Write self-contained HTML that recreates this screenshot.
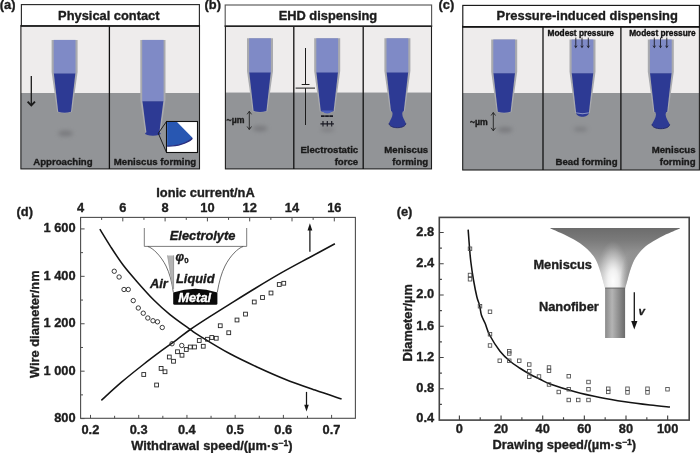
<!DOCTYPE html>
<html><head><meta charset="utf-8"><title>Meniscus-guided printing</title>
<style>html,body{margin:0;padding:0;background:#fff}svg{display:block}text{font-family:"Liberation Sans",Arial,Helvetica,sans-serif;font-weight:bold;stroke-width:0.35;stroke-linejoin:round}.i{font-style:italic}</style></head>
<body>
<svg width="700" height="453" viewBox="0 0 700 453">
<defs>
<filter id="bl" x="-50%" y="-100%" width="200%" height="300%"><feGaussianBlur stdDeviation="1.9"/></filter>
<linearGradient id="cyl" x1="0" x2="1" y1="0" y2="0"><stop offset="0" stop-color="#8a8a8a"/><stop offset="0.35" stop-color="#b4b4b4"/><stop offset="0.7" stop-color="#8c8c8c"/><stop offset="1" stop-color="#6a6a6a"/></linearGradient>
<linearGradient id="fun" x1="0" x2="0" y1="228" y2="288" gradientUnits="userSpaceOnUse"><stop offset="0" stop-color="#6c6c6c"/><stop offset="0.2" stop-color="#7a7a7a"/><stop offset="0.45" stop-color="#969696"/><stop offset="0.75" stop-color="#b8b8b8"/><stop offset="1" stop-color="#c0c0c0"/></linearGradient>
<radialGradient id="hl" cx="613" cy="281" r="40" gradientUnits="userSpaceOnUse" gradientTransform="translate(613 281) scale(0.42 1) translate(-613 -281)"><stop offset="0" stop-color="#fff" stop-opacity="0.97"/><stop offset="0.3" stop-color="#fff" stop-opacity="0.8"/><stop offset="0.6" stop-color="#fff" stop-opacity="0.38"/><stop offset="0.85" stop-color="#fff" stop-opacity="0.1"/><stop offset="1" stop-color="#fff" stop-opacity="0"/></radialGradient>
<radialGradient id="shd" cx="634" cy="284" r="34" gradientUnits="userSpaceOnUse" gradientTransform="translate(634 284) scale(0.42 1) translate(-634 -284)"><stop offset="0" stop-color="#707070" stop-opacity="0.85"/><stop offset="0.5" stop-color="#707070" stop-opacity="0.5"/><stop offset="1" stop-color="#707070" stop-opacity="0"/></radialGradient>
<linearGradient id="db" x1="0" x2="0" y1="0" y2="1"><stop offset="0" stop-color="#2e398a"/><stop offset="0.5" stop-color="#2e3a8e"/><stop offset="1" stop-color="#2b3ca2"/></linearGradient>
</defs>
<rect width="700" height="453" fill="#fff"/>
<rect x="20.9" y="25.5" width="178.6" height="67.5" fill="#eeecec"/>
<rect x="20.9" y="93" width="178.6" height="75.9" fill="#929497"/>
<path d="M51.599999999999994 39.9H77.6V72.1L72.0 112.05Q64.6 114.25 57.199999999999996 112.05L51.599999999999994 72.1Z" fill="#a9aaae"/>
<rect x="53.699999999999996" y="39.9" width="21.8" height="33.99999999999999" fill="#7f8ac6"/>
<path d="M53.87 73.6H75.33L71.0 111.85Q64.6 113.64999999999999 58.199999999999996 111.85Z" fill="#2d3a94"/>
<ellipse cx="65.5" cy="133.4" rx="7.6" ry="2.8" fill="#6a6b6e" opacity="0.62" filter="url(#bl)"/>
<path d="M31.3 76V105" fill="none" stroke="#1a1a1a" stroke-width="1.3"/>
<path d="M27.6 101.7L31.3 105.4L35.0 101.7" fill="none" stroke="#1a1a1a" stroke-width="1.9" stroke-linejoin="miter"/>
<path d="M140.3 39.9H165.5V99.5L160.3 133.95Q152.9 136.14999999999998 145.5 133.95L140.3 99.5Z" fill="#a9aaae"/>
<rect x="142.20000000000002" y="39.9" width="21.4" height="61.699999999999996" fill="#7f8ac6"/>
<path d="M142.43 101.3H163.37L159.20000000000002 133.75Q152.9 135.54999999999998 146.6 133.75Z" fill="#2d3a94"/>
<ellipse cx="152.9" cy="133.6" rx="7.9" ry="2.1" fill="#2d3a94"/>
<path d="M158.3 133.3L166.5 121.5M158.3 133.3L166.5 152.5" stroke="#111" stroke-width="0.9" fill="none"/>
<rect x="166.5" y="121.5" width="31" height="31" fill="#fff" stroke="#111" stroke-width="1.1"/>
<path d="M167.1 146C176 146.2 186.5 143.6 191.8 139.2Q192.9 138.2 192 137.3L177 122.1H167.1Z" fill="#2857b2"/>
<path d="M167.1 145.4C176 145.6 186.5 143.2 192.1 137.4Q193.2 138.6 192.2 139.6C186.5 144.6 176 147.2 167.1 146.8Z" fill="#2b2f7e"/>
<rect x="20.9" y="25.5" width="178.6" height="143.4" fill="none" stroke="#1e1e1e" stroke-width="1.1"/>
<line x1="109.4" y1="25.5" x2="109.4" y2="168.9" stroke="#111" stroke-width="1.3"/>
<text x="62.9" y="165.0" font-size="9.65" text-anchor="middle" fill="#1a1a1a" stroke="#1a1a1a">Approaching</text>
<text x="155" y="165.0" font-size="9.65" text-anchor="middle" fill="#1a1a1a" stroke="#1a1a1a">Meniscus forming</text>
<rect x="21.4" y="4.6" width="178.0" height="21.299999999999997" fill="#fff" stroke="#2a2a2a" stroke-width="1.15"/>
<line x1="20.849999999999998" y1="26.0" x2="199.95000000000002" y2="26.0" stroke="#141414" stroke-width="1.7"/>
<text x="108.8" y="20" font-size="12.85" text-anchor="middle" fill="#1c1c1c" stroke="#1c1c1c">Physical contact</text>
<text x="-0.2" y="8.9" font-size="12.85" text-anchor="start" fill="#1c1c1c" stroke="#1c1c1c">(a)</text>
<rect x="225.4" y="25.5" width="206.1" height="67.0" fill="#eeecec"/>
<rect x="225.4" y="92.5" width="206.1" height="76.4" fill="#929497"/>
<path d="M247 38.3H273V71.1L267.4 111.25Q260 113.45 252.6 111.25L247 71.1Z" fill="#a9aaae"/>
<rect x="249.1" y="38.3" width="21.8" height="34.599999999999994" fill="#7f8ac6"/>
<path d="M249.27 72.6H270.73L266.4 111.05Q260 112.85 253.6 111.05Z" fill="#2d3a94"/>
<ellipse cx="260" cy="128.6" rx="7.6" ry="2.8" fill="#6a6b6e" opacity="0.62" filter="url(#bl)"/>
<text x="226.6" y="122.6" font-size="8.7" text-anchor="start" fill="#1a1a1a" stroke="#1a1a1a">~µm</text>
<path d="M249.3 111.3V129.5M247.10000000000002 114.3L249.3 111.3L251.5 114.3M247.10000000000002 126.5L249.3 129.5L251.5 126.5" fill="none" stroke="#222" stroke-width="0.9"/>
<path d="M305.5 48V84.5M301.7 84.5H309.5M295.6 88.1H315M305.5 88.1V125" stroke="#1c1c1c" stroke-width="1" fill="none"/>
<path d="M314.2 38.3H340.2V71.1L334.59999999999997 111.45Q327.2 113.65 319.8 111.45L314.2 71.1Z" fill="#a9aaae"/>
<rect x="316.3" y="38.3" width="21.8" height="34.599999999999994" fill="#7f8ac6"/>
<path d="M316.47 72.6H337.93L333.59999999999997 111.25Q327.2 113.05 320.8 111.25Z" fill="#2d3a94"/>
<path d="M321.2 110.6Q327.2 116.6 333.2 110.6Z" fill="#4d60bd"/>
<path d="M321 116.2H324.7M325.15 116.2H328.85M329.3 116.2H333" stroke="#1a1a24" stroke-width="1.7" fill="none"/>
<path d="M320.4 123.8H333.9M323 121.1V126.4M327.3 121.1V126.4M331.7 121.1V126.4" stroke="#1a1a24" stroke-width="1.15" fill="none"/>
<ellipse cx="327.5" cy="129.6" rx="7" ry="2.2" fill="#6a6b6e" opacity="0.45" filter="url(#bl)"/>
<path d="M384.4 38.3H410.4V71.1L404.79999999999995 111.35000000000001Q397.4 113.55000000000001 390.0 111.35000000000001L384.4 71.1Z" fill="#a9aaae"/>
<rect x="386.5" y="38.3" width="21.8" height="34.599999999999994" fill="#7f8ac6"/>
<path d="M386.67 72.6H408.13L403.79999999999995 111.15Q397.4 112.95 391.0 111.15Z" fill="#2d3a94"/>
<path d="M391.7 109.5C391.9 111.5 392.49999999999994 113.0 392.54999999999995 113.8C392.54999999999995 117.39999999999999 390.3 119.89999999999999 389.0 123.3C389.0 126.0 392.86 127.7 397.4 127.7C401.94 127.7 405.79999999999995 126.0 405.79999999999995 123.3C404.49999999999994 119.89999999999999 402.25 117.39999999999999 402.25 113.8C402.3 113.0 402.9 111.5 403.09999999999997 109.5Z" fill="#2d3a94"/>
<path d="M389.0 123.3C389.0 126.0 392.86 127.7 397.4 127.7C401.94 127.7 405.79999999999995 126.0 405.79999999999995 123.3" fill="none" stroke="#1f2566" stroke-width="0.9"/>
<rect x="225.4" y="25.5" width="206.1" height="143.4" fill="none" stroke="#1e1e1e" stroke-width="1.1"/>
<line x1="293.8" y1="25.5" x2="293.8" y2="168.9" stroke="#111" stroke-width="1.3"/>
<line x1="363.2" y1="25.5" x2="363.2" y2="168.9" stroke="#111" stroke-width="1.3"/>
<text x="358.2" y="153.3" font-size="9.65" text-anchor="end" fill="#1a1a1a" stroke="#1a1a1a">Electrostatic</text>
<text x="358.2" y="165.0" font-size="9.65" text-anchor="end" fill="#1a1a1a" stroke="#1a1a1a">force</text>
<text x="428.2" y="153.3" font-size="9.65" text-anchor="end" fill="#1a1a1a" stroke="#1a1a1a">Meniscus</text>
<text x="428.2" y="165.0" font-size="9.65" text-anchor="end" fill="#1a1a1a" stroke="#1a1a1a">forming</text>
<rect x="225.2" y="5.0" width="206.40000000000003" height="21.05" fill="#fff" stroke="#585858" stroke-width="1.15"/>
<line x1="224.64999999999998" y1="26.150000000000002" x2="432.15000000000003" y2="26.150000000000002" stroke="#222" stroke-width="1.45"/>
<text x="327.9" y="20" font-size="12.85" text-anchor="middle" fill="#1c1c1c" stroke="#1c1c1c">EHD dispensing</text>
<text x="204.6" y="8.7" font-size="12.85" text-anchor="start" fill="#1c1c1c" stroke="#1c1c1c">(b)</text>
<rect x="462.7" y="26" width="236.7" height="67" fill="#eeecec"/>
<rect x="462.7" y="93" width="236.7" height="77" fill="#929497"/>
<path d="M491.2 39.5H517.2V71.8L511.59999999999997 112.05Q504.2 114.25 496.8 112.05L491.2 71.8Z" fill="#a9aaae"/>
<rect x="493.3" y="39.5" width="21.8" height="34.099999999999994" fill="#7f8ac6"/>
<path d="M493.47 73.3H514.93L510.59999999999997 111.85Q504.2 113.64999999999999 497.8 111.85Z" fill="#2d3a94"/>
<ellipse cx="505" cy="129.8" rx="7.6" ry="2.8" fill="#6a6b6e" opacity="0.62" filter="url(#bl)"/>
<text x="470" y="125.0" font-size="8.7" text-anchor="start" fill="#1a1a1a" stroke="#1a1a1a">~µm</text>
<path d="M493.3 112.5V130.8M491.1 115.5L493.3 112.5L495.5 115.5M491.1 127.80000000000001L493.3 130.8L495.5 127.80000000000001" fill="none" stroke="#222" stroke-width="0.9"/>
<path d="M569.5 39.5H595.5V71.8L589.9 112.85000000000001Q582.5 115.05000000000001 575.1 112.85000000000001L569.5 71.8Z" fill="#a9aaae"/>
<rect x="571.6" y="39.5" width="21.8" height="34.099999999999994" fill="#7f8ac6"/>
<path d="M571.76 73.3H593.24L588.9 112.65Q582.5 114.45 576.1 112.65Z" fill="#2d3a94"/>
<path d="M576.2 113C576.9 118 588.1 118 588.8 113Q582.5 115.2 576.2 113Z" fill="#2d3a94"/>
<path d="M576.3 112.7Q582.5 115 588.7 112.7" fill="none" stroke="#a4aee0" stroke-width="0.6"/>
<ellipse cx="580.5" cy="129.20000000000002" rx="7" ry="2.4" fill="#6a6b6e" opacity="0.5" filter="url(#bl)"/>
<path d="M575.8 37.6V46.5" fill="none" stroke="#15151c" stroke-width="0.85"/><path d="M573.9 45.3L575.8 46.4L577.6999999999999 45.3L575.8 48.2Z" fill="#15151c"/>
<path d="M582 37.6V46.5" fill="none" stroke="#15151c" stroke-width="0.85"/><path d="M580.1 45.3L582 46.4L583.9 45.3L582 48.2Z" fill="#15151c"/>
<path d="M588.3 37.6V46.5" fill="none" stroke="#15151c" stroke-width="0.85"/><path d="M586.4 45.3L588.3 46.4L590.1999999999999 45.3L588.3 48.2Z" fill="#15151c"/>
<text x="547.6" y="35.6" font-size="8.3" text-anchor="start" fill="#101010" stroke="#101010">Modest pressure</text>
<path d="M647.8 39.5H673.8V71.8L668.1999999999999 112.15Q660.8 114.35000000000001 653.4 112.15L647.8 71.8Z" fill="#a9aaae"/>
<rect x="649.9" y="39.5" width="21.8" height="34.099999999999994" fill="#7f8ac6"/>
<path d="M650.07 73.3H671.53L667.1999999999999 111.95Q660.8 113.75 654.4 111.95Z" fill="#2d3a94"/>
<path d="M655.0999999999999 110.3C655.3 112.3 655.95 113.60000000000001 656.0 114.4C656.0 118.0 653.2499999999999 120.89999999999999 651.9499999999999 124.3C651.9499999999999 127.0 656.02 128.7 660.8 128.7C665.58 128.7 669.65 127.0 669.65 124.3C668.35 120.89999999999999 665.5999999999999 118.0 665.5999999999999 114.4C665.6499999999999 113.60000000000001 666.3 112.3 666.5 110.3Z" fill="#2d3a94"/>
<path d="M651.9499999999999 124.3C651.9499999999999 127.0 656.02 128.7 660.8 128.7C665.58 128.7 669.65 127.0 669.65 124.3" fill="none" stroke="#1f2566" stroke-width="0.9"/>
<path d="M654.3 37.6V46.5" fill="none" stroke="#15151c" stroke-width="0.85"/><path d="M652.4 45.3L654.3 46.4L656.1999999999999 45.3L654.3 48.2Z" fill="#15151c"/>
<path d="M660.5 37.6V46.5" fill="none" stroke="#15151c" stroke-width="0.85"/><path d="M658.6 45.3L660.5 46.4L662.4 45.3L660.5 48.2Z" fill="#15151c"/>
<path d="M666.8 37.6V46.5" fill="none" stroke="#15151c" stroke-width="0.85"/><path d="M664.9 45.3L666.8 46.4L668.6999999999999 45.3L666.8 48.2Z" fill="#15151c"/>
<text x="629.2" y="35.6" font-size="8.3" text-anchor="start" fill="#101010" stroke="#101010">Modest pressure</text>
<rect x="462.7" y="26" width="236.7" height="144" fill="none" stroke="#1e1e1e" stroke-width="1.1"/>
<line x1="543" y1="26" x2="543" y2="170" stroke="#111" stroke-width="1.3"/>
<line x1="620.9" y1="26" x2="620.9" y2="170" stroke="#111" stroke-width="1.3"/>
<text x="617.6" y="165.0" font-size="9.65" text-anchor="end" fill="#1a1a1a" stroke="#1a1a1a">Bead forming</text>
<text x="695.6" y="153.3" font-size="9.65" text-anchor="end" fill="#1a1a1a" stroke="#1a1a1a">Meniscus</text>
<text x="695.6" y="165.0" font-size="9.65" text-anchor="end" fill="#1a1a1a" stroke="#1a1a1a">forming</text>
<rect x="462.8" y="5.4" width="236.59999999999997" height="21.299999999999997" fill="#fff" stroke="#161616" stroke-width="1.15"/>
<line x1="462.25" y1="26.8" x2="699.9499999999999" y2="26.8" stroke="#141414" stroke-width="1.7"/>
<text x="587.2" y="20.1" font-size="12.95" text-anchor="middle" fill="#1c1c1c" stroke="#1c1c1c">Pressure-induced dispensing</text>
<text x="438.6" y="9.2" font-size="12.85" text-anchor="start" fill="#1c1c1c" stroke="#1c1c1c">(c)</text>
<path d="M90.50 418.3v-3.4M138.72 418.3v-3.4M186.94 418.3v-3.4M235.16 418.3v-3.4M283.38 418.3v-3.4M331.60 418.3v-3.4M114.61 418.3v-2.5M162.83 418.3v-2.5M211.05 418.3v-2.5M259.27 418.3v-2.5M307.49 418.3v-2.5M80.50 217.4v4M122.80 217.4v4M165.10 217.4v4M207.40 217.4v4M249.70 217.4v4M292.00 217.4v4M334.30 217.4v4M101.65 217.4v2.5M143.95 217.4v2.5M186.25 217.4v2.5M228.55 217.4v2.5M270.85 217.4v2.5M313.15 217.4v2.5M80.6 418.60h4M80.6 371.18h4M80.6 323.76h4M80.6 276.34h4M80.6 228.92h4M80.6 394.89h2.4M80.6 347.47h2.4M80.6 300.05h2.4M80.6 252.63h2.4" stroke="#4d4d4d" stroke-width="1" fill="none"/>
<rect x="80.6" y="217.4" width="274.79999999999995" height="200.9" fill="none" stroke="#4d4d4d" stroke-width="1.1"/>
<text x="90.4" y="433.8" font-size="12.85" text-anchor="middle" fill="#1e1e1e" stroke="#1e1e1e">0.2</text>
<text x="138.62" y="433.8" font-size="12.85" text-anchor="middle" fill="#1e1e1e" stroke="#1e1e1e">0.3</text>
<text x="186.84" y="433.8" font-size="12.85" text-anchor="middle" fill="#1e1e1e" stroke="#1e1e1e">0.4</text>
<text x="235.06" y="433.8" font-size="12.85" text-anchor="middle" fill="#1e1e1e" stroke="#1e1e1e">0.5</text>
<text x="283.28" y="433.8" font-size="12.85" text-anchor="middle" fill="#1e1e1e" stroke="#1e1e1e">0.6</text>
<text x="331.5" y="433.8" font-size="12.85" text-anchor="middle" fill="#1e1e1e" stroke="#1e1e1e">0.7</text>
<text x="80.5" y="212.2" font-size="12.85" text-anchor="middle" fill="#1e1e1e" stroke="#1e1e1e">4</text>
<text x="122.8" y="212.2" font-size="12.85" text-anchor="middle" fill="#1e1e1e" stroke="#1e1e1e">6</text>
<text x="165.1" y="212.2" font-size="12.85" text-anchor="middle" fill="#1e1e1e" stroke="#1e1e1e">8</text>
<text x="207.4" y="212.2" font-size="12.85" text-anchor="middle" fill="#1e1e1e" stroke="#1e1e1e">10</text>
<text x="249.7" y="212.2" font-size="12.85" text-anchor="middle" fill="#1e1e1e" stroke="#1e1e1e">12</text>
<text x="292.0" y="212.2" font-size="12.85" text-anchor="middle" fill="#1e1e1e" stroke="#1e1e1e">14</text>
<text x="334.3" y="212.2" font-size="12.85" text-anchor="middle" fill="#1e1e1e" stroke="#1e1e1e">16</text>
<text x="75.6" y="422.0" font-size="12.85" text-anchor="end" fill="#1e1e1e" stroke="#1e1e1e">800</text>
<text x="75.6" y="374.58" font-size="12.85" text-anchor="end" fill="#1e1e1e" stroke="#1e1e1e">1 000</text>
<text x="75.6" y="327.16" font-size="12.85" text-anchor="end" fill="#1e1e1e" stroke="#1e1e1e">1 200</text>
<text x="75.6" y="279.74" font-size="12.85" text-anchor="end" fill="#1e1e1e" stroke="#1e1e1e">1 400</text>
<text x="75.6" y="232.32" font-size="12.85" text-anchor="end" fill="#1e1e1e" stroke="#1e1e1e">1 600</text>
<text x="205.5" y="196.8" font-size="12.85" text-anchor="middle" fill="#1e1e1e" stroke="#1e1e1e">Ionic current/nA</text>
<text x="131.2" y="449.8" font-size="12.85" text-anchor="start" fill="#1e1e1e" stroke="#1e1e1e">Withdrawal speed/(µm·s<tspan dy="-4.2" font-size="8.6">−1</tspan><tspan dy="4.2">)</tspan></text>
<text transform="translate(38.6 324.2) rotate(-90)" font-size="12.85" text-anchor="middle" fill="#1e1e1e" stroke="#1e1e1e">Wire diameter/nm</text>
<text x="16.6" y="216.3" font-size="12.85" text-anchor="start" fill="#1e1e1e" stroke="#1e1e1e">(d)</text>
<path d="M99.85 229.2C101.69 232.18 107.03 241.13 110.9 247.1C114.78 253.07 118.88 259.40 123.1 265C127.32 270.60 131.08 274.87 136.2 280.7C141.32 286.53 148.17 294.35 153.8 300C159.43 305.65 163.92 309.68 170 314.6C176.08 319.52 185.30 325.92 190.3 329.5C195.30 333.08 193.38 332.05 200 336.1C206.62 340.15 220.42 348.62 230 353.8C239.58 358.98 248.33 362.97 257.5 367.2C266.67 371.43 275.42 375.38 285 379.2C294.58 383.02 305.57 386.80 315 390.1C324.43 393.40 337.17 397.52 341.6 399" fill="none" stroke="#141414" stroke-width="1.55"/>
<path d="M101.35 400.3C104.71 397.28 114.61 388.08 121.5 382.2C128.39 376.32 136.03 370.25 142.7 365C149.37 359.75 155.85 354.90 161.5 350.7C167.15 346.50 171.80 343.33 176.6 339.8C181.40 336.27 184.90 333.27 190.3 329.5C195.70 325.73 202.55 321.35 209 317.2C215.45 313.05 221.33 309.38 229 304.6C236.67 299.82 246.08 293.90 255 288.5C263.92 283.10 273.33 277.42 282.5 272.2C291.67 266.98 301.27 261.95 310 257.2C318.73 252.45 330.75 245.95 334.9 243.7" fill="none" stroke="#141414" stroke-width="1.55"/>
<path d="M309.9 251.8V229" stroke="#161616" stroke-width="1.25" fill="none"/><path d="M309.9 223.2L307.5 230.6H312.3Z" fill="#161616"/>
<path d="M306.5 391.9V406.5" stroke="#161616" stroke-width="1.25" fill="none"/><path d="M306.5 411.6L304.2 404.8H308.8Z" fill="#161616"/>
<circle cx="114.25" cy="271.25" r="2.2" fill="none" stroke="#262626" stroke-width="0.9"/>
<circle cx="119.1" cy="277" r="2.2" fill="none" stroke="#262626" stroke-width="0.9"/>
<circle cx="124" cy="289.5" r="2.2" fill="none" stroke="#262626" stroke-width="0.9"/>
<circle cx="128.25" cy="289.5" r="2.2" fill="none" stroke="#262626" stroke-width="0.9"/>
<circle cx="133.25" cy="300.6" r="2.2" fill="none" stroke="#262626" stroke-width="0.9"/>
<circle cx="138.3" cy="308" r="2.2" fill="none" stroke="#262626" stroke-width="0.9"/>
<circle cx="143.25" cy="313.2" r="2.2" fill="none" stroke="#262626" stroke-width="0.9"/>
<circle cx="147.8" cy="318" r="2.2" fill="none" stroke="#262626" stroke-width="0.9"/>
<circle cx="153" cy="320.75" r="2.2" fill="none" stroke="#262626" stroke-width="0.9"/>
<circle cx="157.5" cy="321.8" r="2.2" fill="none" stroke="#262626" stroke-width="0.9"/>
<circle cx="162.25" cy="327.5" r="2.2" fill="none" stroke="#262626" stroke-width="0.9"/>
<circle cx="172" cy="343.75" r="2.2" fill="none" stroke="#262626" stroke-width="0.9"/>
<circle cx="181.75" cy="345.5" r="2.2" fill="none" stroke="#262626" stroke-width="0.9"/>
<rect x="141.85" y="372.6" width="3.8" height="3.8" fill="none" stroke="#262626" stroke-width="0.9"/>
<rect x="154.7" y="383.1" width="3.8" height="3.8" fill="none" stroke="#262626" stroke-width="0.9"/>
<rect x="159.2" y="366.5" width="3.8" height="3.8" fill="none" stroke="#262626" stroke-width="0.9"/>
<rect x="163.1" y="369.85" width="3.8" height="3.8" fill="none" stroke="#262626" stroke-width="0.9"/>
<rect x="167.4" y="355.1" width="3.8" height="3.8" fill="none" stroke="#262626" stroke-width="0.9"/>
<rect x="171.6" y="359.35" width="3.8" height="3.8" fill="none" stroke="#262626" stroke-width="0.9"/>
<rect x="175.6" y="349.85" width="3.8" height="3.8" fill="none" stroke="#262626" stroke-width="0.9"/>
<rect x="180.1" y="353.35" width="3.8" height="3.8" fill="none" stroke="#262626" stroke-width="0.9"/>
<rect x="184.35" y="347.6" width="3.8" height="3.8" fill="none" stroke="#262626" stroke-width="0.9"/>
<rect x="188.35" y="345.1" width="3.8" height="3.8" fill="none" stroke="#262626" stroke-width="0.9"/>
<rect x="192.6" y="345.1" width="3.8" height="3.8" fill="none" stroke="#262626" stroke-width="0.9"/>
<rect x="197.35" y="338.6" width="3.8" height="3.8" fill="none" stroke="#262626" stroke-width="0.9"/>
<rect x="201.35" y="344.35" width="3.8" height="3.8" fill="none" stroke="#262626" stroke-width="0.9"/>
<rect x="205.6" y="337.35" width="3.8" height="3.8" fill="none" stroke="#262626" stroke-width="0.9"/>
<rect x="209.85" y="335.6" width="3.8" height="3.8" fill="none" stroke="#262626" stroke-width="0.9"/>
<rect x="214.35" y="336.35" width="3.8" height="3.8" fill="none" stroke="#262626" stroke-width="0.9"/>
<rect x="218.35" y="323.85" width="3.8" height="3.8" fill="none" stroke="#262626" stroke-width="0.9"/>
<rect x="226.85" y="330.85" width="3.8" height="3.8" fill="none" stroke="#262626" stroke-width="0.9"/>
<rect x="235.1" y="318.1" width="3.8" height="3.8" fill="none" stroke="#262626" stroke-width="0.9"/>
<rect x="243.6" y="312.20000000000005" width="3.8" height="3.8" fill="none" stroke="#262626" stroke-width="0.9"/>
<rect x="252.35" y="300.1" width="3.8" height="3.8" fill="none" stroke="#262626" stroke-width="0.9"/>
<rect x="260.6" y="295.6" width="3.8" height="3.8" fill="none" stroke="#262626" stroke-width="0.9"/>
<rect x="269.1" y="291.1" width="3.8" height="3.8" fill="none" stroke="#262626" stroke-width="0.9"/>
<rect x="277.35" y="282.6" width="3.8" height="3.8" fill="none" stroke="#262626" stroke-width="0.9"/>
<rect x="281.85" y="281.35" width="3.8" height="3.8" fill="none" stroke="#262626" stroke-width="0.9"/>
<path d="M144.3 228V246.4H246.7V228" fill="none" stroke="#6e6e6e" stroke-width="0.9"/>
<path d="M147.8 246.5C153 248 161 256 166 266C169.5 273 172 282 173.3 292.3M243.2 246.5C238 248 230 256 225 266C221.5 273 219 282 217.3 292.3" fill="none" stroke="#3c3c3c" stroke-width="0.75"/>
<path d="M167.3 255.4H173.9V289L172.9 289Z" fill="#b4b4b4"/><path d="M173.6 255.4V289" stroke="#8a8a8a" stroke-width="0.7" fill="none"/><path d="M167.5 255.4L172.9 288" stroke="#999" stroke-width="0.6" fill="none"/>
<path d="M173.2 292.5Q195.3 285.1 217.4 292.5V303.4Q217.4 304.8 216 304.8H174.6Q173.2 304.8 173.2 303.4Z" fill="#0a0a0a"/>
<text x="202.6" y="240" font-size="12.85" text-anchor="middle" fill="#1a1a1a" stroke="#1a1a1a" class="i">Electrolyte</text>
<text x="150" y="288" font-size="12.85" text-anchor="start" fill="#1a1a1a" stroke="#1a1a1a" class="i">Air</text>
<text x="176" y="282.5" font-size="12.85" text-anchor="start" fill="#1a1a1a" stroke="#1a1a1a" class="i">Liquid</text>
<text x="194.7" y="301.9" font-size="12.85" text-anchor="middle" fill="#ffffff" stroke="#ffffff" class="i">Metal</text>
<text x="175.6" y="260.6" font-size="12.2" text-anchor="start" fill="#1a1a1a" stroke="#1a1a1a" class="i">φ<tspan dy="2.4" font-size="7.8" font-style="normal">0</tspan></text>
<path d="M459.40 420.1v-4.6M501.05 420.1v-4.6M542.70 420.1v-4.6M584.35 420.1v-4.6M626.00 420.1v-4.6M667.65 420.1v-4.6M480.22 420.1v-2.8M521.88 420.1v-2.8M563.52 420.1v-2.8M605.17 420.1v-2.8M646.83 420.1v-2.8M439.3 388.75h4.4M439.3 357.50h4.4M439.3 326.25h4.4M439.3 295.00h4.4M439.3 263.75h4.4M439.3 232.50h4.4M439.3 404.38h2.6M439.3 373.12h2.6M439.3 341.88h2.6M439.3 310.62h2.6M439.3 279.38h2.6M439.3 248.12h2.6" stroke="#444" stroke-width="1.15" fill="none"/>
<rect x="439.3" y="217.4" width="249.90000000000003" height="202.70000000000002" fill="none" stroke="#444" stroke-width="1.6"/>
<text x="459.4" y="433" font-size="12.85" text-anchor="middle" fill="#1e1e1e" stroke="#1e1e1e">0</text>
<text x="501.05" y="433" font-size="12.85" text-anchor="middle" fill="#1e1e1e" stroke="#1e1e1e">20</text>
<text x="542.7" y="433" font-size="12.85" text-anchor="middle" fill="#1e1e1e" stroke="#1e1e1e">40</text>
<text x="584.35" y="433" font-size="12.85" text-anchor="middle" fill="#1e1e1e" stroke="#1e1e1e">60</text>
<text x="626.0" y="433" font-size="12.85" text-anchor="middle" fill="#1e1e1e" stroke="#1e1e1e">80</text>
<text x="667.65" y="433" font-size="12.85" text-anchor="middle" fill="#1e1e1e" stroke="#1e1e1e">100</text>
<text x="434.2" y="422.2" font-size="12.85" text-anchor="end" fill="#1e1e1e" stroke="#1e1e1e">0.4</text>
<text x="434.2" y="392.05" font-size="12.85" text-anchor="end" fill="#1e1e1e" stroke="#1e1e1e">0.8</text>
<text x="434.2" y="360.8" font-size="12.85" text-anchor="end" fill="#1e1e1e" stroke="#1e1e1e">1.2</text>
<text x="434.2" y="329.55" font-size="12.85" text-anchor="end" fill="#1e1e1e" stroke="#1e1e1e">1.6</text>
<text x="434.2" y="298.3" font-size="12.85" text-anchor="end" fill="#1e1e1e" stroke="#1e1e1e">2.0</text>
<text x="434.2" y="267.05" font-size="12.85" text-anchor="end" fill="#1e1e1e" stroke="#1e1e1e">2.4</text>
<text x="434.2" y="235.8" font-size="12.85" text-anchor="end" fill="#1e1e1e" stroke="#1e1e1e">2.8</text>
<text x="492.6" y="448.8" font-size="12.85" text-anchor="start" fill="#1e1e1e" stroke="#1e1e1e">Drawing speed/(µm·s<tspan dy="-4.2" font-size="8.6">−1</tspan><tspan dy="4.2">)</tspan></text>
<text transform="translate(411.6 322.8) rotate(-90)" font-size="12.85" text-anchor="middle" fill="#1e1e1e" stroke="#1e1e1e">Diameter/µm</text>
<text x="396.7" y="215.6" font-size="12.85" text-anchor="start" fill="#1e1e1e" stroke="#1e1e1e">(e)</text>
<path d="M468.15 229.6C468.38 232.58 469.05 242.10 469.5 247.5C469.95 252.90 470.18 256.58 470.85 262C471.52 267.42 472.49 274.17 473.5 280C474.51 285.83 475.88 292.75 476.9 297C477.92 301.25 478.85 302.50 479.6 305.5C480.35 308.50 480.47 312.00 481.4 315C482.33 318.00 483.83 320.17 485.2 323.5C486.57 326.83 487.13 330.38 489.6 335C492.07 339.62 496.60 346.88 500 351.25C503.40 355.62 506.67 358.42 510 361.25C513.33 364.08 516.67 366.08 520 368.25C523.33 370.42 526.67 372.42 530 374.25C533.33 376.08 536.67 377.62 540 379.25C543.33 380.88 544.17 381.92 550 384C555.83 386.08 566.67 389.50 575 391.75C583.33 394.00 591.67 395.83 600 397.5C608.33 399.17 616.67 400.50 625 401.75C633.33 403.00 642.50 404.12 650 405C657.50 405.88 666.67 406.67 670 407" fill="none" stroke="#141414" stroke-width="1.55"/>
<rect x="468.25" y="247.00" width="3.5" height="3.5" fill="none" stroke="#4c4c4c" stroke-width="0.85"/>
<rect x="468.25" y="273.25" width="3.5" height="3.5" fill="none" stroke="#4c4c4c" stroke-width="0.85"/>
<rect x="468.25" y="277.50" width="3.5" height="3.5" fill="none" stroke="#4c4c4c" stroke-width="0.85"/>
<rect x="478.25" y="304.50" width="3.5" height="3.5" fill="none" stroke="#4c4c4c" stroke-width="0.85"/>
<rect x="488.25" y="310.00" width="3.5" height="3.5" fill="none" stroke="#4c4c4c" stroke-width="0.85"/>
<rect x="488.25" y="332.50" width="3.5" height="3.5" fill="none" stroke="#4c4c4c" stroke-width="0.85"/>
<rect x="488.25" y="343.75" width="3.5" height="3.5" fill="none" stroke="#4c4c4c" stroke-width="0.85"/>
<rect x="498.00" y="359.00" width="3.5" height="3.5" fill="none" stroke="#4c4c4c" stroke-width="0.85"/>
<rect x="507.50" y="349.50" width="3.5" height="3.5" fill="none" stroke="#4c4c4c" stroke-width="0.85"/>
<rect x="507.50" y="351.75" width="3.5" height="3.5" fill="none" stroke="#4c4c4c" stroke-width="0.85"/>
<rect x="507.50" y="359.00" width="3.5" height="3.5" fill="none" stroke="#4c4c4c" stroke-width="0.85"/>
<rect x="517.50" y="359.00" width="3.5" height="3.5" fill="none" stroke="#4c4c4c" stroke-width="0.85"/>
<rect x="527.50" y="362.75" width="3.5" height="3.5" fill="none" stroke="#4c4c4c" stroke-width="0.85"/>
<rect x="527.50" y="369.50" width="3.5" height="3.5" fill="none" stroke="#4c4c4c" stroke-width="0.85"/>
<rect x="527.50" y="375.00" width="3.5" height="3.5" fill="none" stroke="#4c4c4c" stroke-width="0.85"/>
<rect x="537.25" y="374.75" width="3.5" height="3.5" fill="none" stroke="#4c4c4c" stroke-width="0.85"/>
<rect x="547.25" y="365.75" width="3.5" height="3.5" fill="none" stroke="#4c4c4c" stroke-width="0.85"/>
<rect x="547.25" y="369.00" width="3.5" height="3.5" fill="none" stroke="#4c4c4c" stroke-width="0.85"/>
<rect x="547.25" y="382.75" width="3.5" height="3.5" fill="none" stroke="#4c4c4c" stroke-width="0.85"/>
<rect x="557.00" y="390.25" width="3.5" height="3.5" fill="none" stroke="#4c4c4c" stroke-width="0.85"/>
<rect x="567.00" y="374.50" width="3.5" height="3.5" fill="none" stroke="#4c4c4c" stroke-width="0.85"/>
<rect x="567.00" y="387.50" width="3.5" height="3.5" fill="none" stroke="#4c4c4c" stroke-width="0.85"/>
<rect x="567.00" y="398.25" width="3.5" height="3.5" fill="none" stroke="#4c4c4c" stroke-width="0.85"/>
<rect x="576.50" y="398.25" width="3.5" height="3.5" fill="none" stroke="#4c4c4c" stroke-width="0.85"/>
<rect x="586.75" y="380.25" width="3.5" height="3.5" fill="none" stroke="#4c4c4c" stroke-width="0.85"/>
<rect x="586.75" y="387.50" width="3.5" height="3.5" fill="none" stroke="#4c4c4c" stroke-width="0.85"/>
<rect x="586.75" y="398.25" width="3.5" height="3.5" fill="none" stroke="#4c4c4c" stroke-width="0.85"/>
<rect x="606.50" y="387.00" width="3.5" height="3.5" fill="none" stroke="#4c4c4c" stroke-width="0.85"/>
<rect x="606.50" y="390.15" width="3.5" height="3.5" fill="none" stroke="#4c4c4c" stroke-width="0.85"/>
<rect x="625.75" y="387.00" width="3.5" height="3.5" fill="none" stroke="#4c4c4c" stroke-width="0.85"/>
<rect x="625.75" y="390.65" width="3.5" height="3.5" fill="none" stroke="#4c4c4c" stroke-width="0.85"/>
<rect x="645.75" y="387.00" width="3.5" height="3.5" fill="none" stroke="#4c4c4c" stroke-width="0.85"/>
<rect x="645.75" y="390.65" width="3.5" height="3.5" fill="none" stroke="#4c4c4c" stroke-width="0.85"/>
<rect x="665.75" y="387.50" width="3.5" height="3.5" fill="none" stroke="#4c4c4c" stroke-width="0.85"/>
<path d="M550.4 228.1L550.4 228.6C551.55 229.08 555.00 230.52 557.3 231.5C559.60 232.48 560.88 232.85 564.2 234.5C567.52 236.15 573.33 238.95 577.2 241.4C581.07 243.85 584.40 246.30 587.4 249.2C590.40 252.10 593.13 255.33 595.2 258.8C597.27 262.27 598.57 266.55 599.8 270C601.03 273.45 601.75 276.53 602.6 279.5C603.45 282.47 604.52 286.42 604.9 287.8L625.3 287.8C625.70 286.37 626.78 282.40 627.7 279.2C628.62 276.00 629.48 272.17 630.8 268.6C632.12 265.03 633.48 261.18 635.6 257.8C637.72 254.42 640.57 251.05 643.5 248.3C646.43 245.55 649.42 243.63 653.2 241.3C656.98 238.97 662.90 235.95 666.2 234.3C669.50 232.65 670.72 232.35 673 231.4C675.28 230.45 678.75 229.07 679.9 228.6L679.9 228.1Z" fill="url(#fun)"/>
<clipPath id="fc"><path d="M550.4 228.1L550.4 228.6C551.55 229.08 555.00 230.52 557.3 231.5C559.60 232.48 560.88 232.85 564.2 234.5C567.52 236.15 573.33 238.95 577.2 241.4C581.07 243.85 584.40 246.30 587.4 249.2C590.40 252.10 593.13 255.33 595.2 258.8C597.27 262.27 598.57 266.55 599.8 270C601.03 273.45 601.75 276.53 602.6 279.5C603.45 282.47 604.52 286.42 604.9 287.8L625.3 287.8C625.70 286.37 626.78 282.40 627.7 279.2C628.62 276.00 629.48 272.17 630.8 268.6C632.12 265.03 633.48 261.18 635.6 257.8C637.72 254.42 640.57 251.05 643.5 248.3C646.43 245.55 649.42 243.63 653.2 241.3C656.98 238.97 662.90 235.95 666.2 234.3C669.50 232.65 670.72 232.35 673 231.4C675.28 230.45 678.75 229.07 679.9 228.6L679.9 228.1Z"/></clipPath>
<rect x="550" y="228" width="130" height="60" fill="url(#hl)" clip-path="url(#fc)"/>
<rect x="612" y="240" width="40" height="48" fill="url(#shd)" clip-path="url(#fc)"/>
<rect x="605.1" y="287.6" width="20" height="50.4" fill="url(#cyl)"/>
<rect x="605.1" y="287.6" width="20" height="1.4" fill="#666" opacity="0.55"/>
<path d="M634.3 292.3V323" stroke="#161616" stroke-width="1.3" fill="none"/><path d="M634.3 329.4L631.2 321H637.4Z" fill="#161616"/>
<text x="533.4" y="268.8" font-size="12.85" text-anchor="start" fill="#1e1e1e" stroke="#1e1e1e">Meniscus</text>
<text x="538.9" y="310.5" font-size="12.85" text-anchor="start" fill="#1e1e1e" stroke="#1e1e1e">Nanofiber</text>
<text x="638.6" y="314.6" font-size="11.6" text-anchor="start" fill="#1e1e1e" stroke="#1e1e1e" class="i">v</text>
</svg>
</body></html>
